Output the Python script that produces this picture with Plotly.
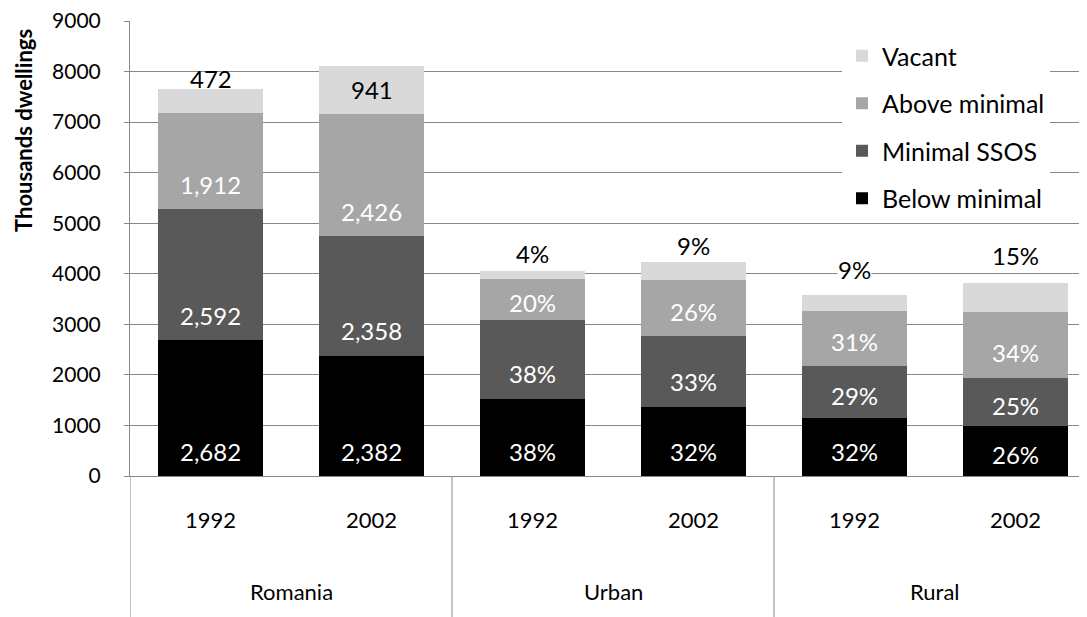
import plotly.graph_objects as go

# ---- data ----
groups = ["Romania", "Urban", "Rural"]
years = ["1992", "2002", "1992", "2002", "1992", "2002"]
below = [2682, 2382, 1525, 1370, 1140, 985]
minimal = [2592, 2358, 1555, 1395, 1030, 955]
above = [1912, 2426, 810, 1105, 1100, 1300]
vacant = [472, 941, 160, 370, 320, 580]
below_lbl = ["2,682", "2,382", "38%", "32%", "32%", "26%"]
minimal_lbl = ["2,592", "2,358", "38%", "33%", "29%", "25%"]
above_lbl = ["1,912", "2,426", "20%", "26%", "31%", "34%"]
vacant_lbl = ["472", "941", "4%", "9%", "9%", "15%"]
series_names = ["Below minimal", "Minimal SSOS", "Above minimal", "Vacant"]
y_title = "Thousands dwellings"

# ---- style ----
FONT = "Lato"
GRID = "#878787"
colors = ["#000000", "#595959", "#a6a6a6", "#d9d9d9"]
W, H = 1087, 617
OFF = 8  # page body margin offset in the browser
M_L, M_T, M_B, M_R = 130 - OFF, 21 - OFF, 149, 0
YMAX = 9000
plot_h = H - M_T - M_B
plot_w = W - M_L - M_R
px_per_unit = plot_h / YMAX
CAT_PX = 161
xmax = plot_w / CAT_PX - 0.5

xs = list(range(len(years)))
series = [below, minimal, above, vacant]
labels = [below_lbl, minimal_lbl, above_lbl, vacant_lbl]

fig = go.Figure()
for i, (vals, name) in enumerate(zip(series, series_names)):
    fig.add_trace(go.Bar(
        x=xs, y=vals, name=name, legendgroup=name, legendrank=10 - i,
        marker=dict(color=colors[i], line=dict(width=0)),
        width=0.65, hoverinfo="skip",
    ))

annotations = []
# inside labels (near base of each segment)
for i in range(3):
    for j in xs:
        base = sum(series[k][j] for k in range(i))
        seg_px = series[i][j] * px_per_unit
        shift = min(25, seg_px / 2 - 3)
        annotations.append(dict(
            x=j, y=base, xref="x", yref="y", text=labels[i][j],
            showarrow=False, yanchor="middle", yshift=shift,
            font=dict(family=FONT, size=24, color="white"),
        ))
# vacant labels (manually offset from bar top as in the original)
vac_shift = [10, -23, 18, 16, 25, 27]
vac_bg = [False, False, False, False, True, False]
for j in xs:
    top = sum(series[k][j] for k in range(4))
    annotations.append(dict(
        x=j, y=top, xref="x", yref="y", text=vacant_lbl[j],
        showarrow=False, yanchor="middle", yshift=vac_shift[j],
        font=dict(family=FONT, size=24, color="black"),
        bgcolor="white" if vac_bg[j] else "rgba(0,0,0,0)",
        borderpad=0,
    ))
# group labels
for g, name in enumerate(groups):
    annotations.append(dict(
        x=2 * g + 0.5, y=-115 / plot_h, xref="x", yref="paper",
        text=name, showarrow=False, yanchor="middle",
        font=dict(family=FONT, size=22, color="black"),
    ))
# y-axis title (placed toward the top, as in the original)
annotations.append(dict(
    x=(23 - OFF - M_L) / plot_w, y=1 - (131 - OFF - M_T) / plot_h,
    xref="paper", yref="paper", text="<b>%s</b>" % y_title, textangle=-90,
    showarrow=False, xanchor="center", yanchor="middle",
    font=dict(family=FONT, size=22, color="black"),
))

shapes = []
for xb in [-0.5, 1.5, 3.5]:
    shapes.append(dict(type="line", xref="x", yref="paper", x0=xb, x1=xb,
                       y0=0, y1=-M_B / plot_h, line=dict(color=GRID, width=1)))

fig.update_layout(
    width=W, height=H,
    margin=dict(l=M_L, r=M_R, t=M_T, b=M_B, pad=0, autoexpand=False),
    barmode="stack",
    plot_bgcolor="white", paper_bgcolor="white",
    font=dict(family=FONT, size=22, color="black"),
    annotations=annotations, shapes=shapes,
    legend=dict(
        x=(842 - OFF - M_L) / plot_w, y=1 - (33 - OFF - M_T) / plot_h,
        xanchor="left", yanchor="top",
        traceorder="grouped", tracegroupgap=12,
        bgcolor="white", font=dict(family=FONT, size=25),
    ),
    showlegend=True,
)
fig.update_xaxes(
    range=[-0.5, xmax], tickvals=xs, ticktext=years, ticks="",
    showline=True, linecolor=GRID, showgrid=False, zeroline=False,
    tickfont=dict(family=FONT, size=22), ticklabelstandoff=25,
    automargin=False,
)
fig.update_yaxes(
    range=[0, YMAX], tickvals=list(range(0, YMAX + 1, 1000)),
    showgrid=True, gridcolor=GRID,
    showline=True, linecolor=GRID, ticks="outside", ticklen=5, tickcolor=GRID,
    zeroline=False, tickfont=dict(family=FONT, size=21), ticklabelstandoff=19,
    ticklabeloverflow="allow", automargin=False,
)

fig.write_html("out.html")
